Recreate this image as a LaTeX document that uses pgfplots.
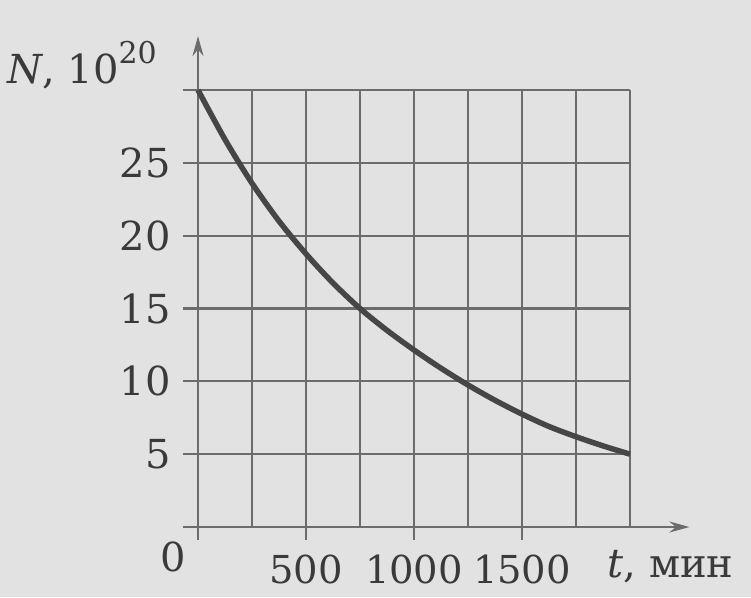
\documentclass[border=0pt]{standalone}
\usepackage{pgfplots}
\pgfplotsset{compat=1.18}
\usepackage{fontspec}
\setmainfont{DejaVu Serif}
\usetikzlibrary{arrows.meta}
\definecolor{bg}{RGB}{226,226,226}
\definecolor{gridc}{RGB}{108,108,108}
\definecolor{curvec}{RGB}{70,70,70}
\definecolor{txt}{RGB}{58,58,58}
\begin{document}
\begin{tikzpicture}[x=1pt,y=1pt]
\fill[bg] (0,0) rectangle (751,-597);
\useasboundingbox (0,0) rectangle (751,-597);
\begin{axis}[
  at={(198pt,-527pt)}, anchor=south west,
  x=0.216pt, y=14.567pt,
  xmin=0, xmax=2000, ymin=0, ymax=30,
  axis line style={draw=none},
  xtick={0,250,...,2000},
  xticklabels={,,500,,1000,,1500,,},
  ytick={5,10,...,30},
  yticklabels={5,10,15,20,25,},
  major tick length=0pt,
  grid=major,
  grid style={gridc, line width=2.3pt},
  tick label style={font=\fontsize{40}{48}\selectfont, text=txt, inner sep=0pt},
  xticklabel style={anchor=north, yshift=-28pt, font=\fontsize{38.5}{46}\selectfont},
  yticklabel style={anchor=east, xshift=-27pt},
  /pgf/number format/assume math mode=true,
  clip=false,
]
\draw[gridc, line width=2.5pt, -{Stealth[length=20pt,width=11pt]}] (axis cs:-70,0) -- (axis cs:2275,0);
\draw[gridc, line width=2.5pt, -{Stealth[length=20pt,width=11pt]}] (axis cs:0,-0.9) -- (axis cs:0,33.7);
\draw[gridc, line width=2.3pt] (axis cs:-70,5) -- (axis cs:0,5);
\draw[gridc, line width=2.3pt] (axis cs:-70,10) -- (axis cs:0,10);
\draw[gridc, line width=2.3pt] (axis cs:-70,15) -- (axis cs:0,15);
\draw[gridc, line width=2.3pt] (axis cs:-70,20) -- (axis cs:0,20);
\draw[gridc, line width=2.3pt] (axis cs:-70,25) -- (axis cs:0,25);
\draw[gridc, line width=2.3pt] (axis cs:-70,30) -- (axis cs:0,30);
\draw[gridc, line width=2.3pt] (axis cs:500,0) -- (axis cs:500,-0.9);
\draw[gridc, line width=2.3pt] (axis cs:1000,0) -- (axis cs:1000,-0.9);
\draw[gridc, line width=2.3pt] (axis cs:1500,0) -- (axis cs:1500,-0.9);
\addplot[curvec, line width=5.5pt, smooth, no markers] coordinates {
(0,30) (125,26.6) (250,23.6) (375,21.0) (500,18.75) (625,16.75) (750,15.0)
(875,13.5) (1000,12.15) (1125,10.9) (1250,9.75) (1375,8.7) (1500,7.75)
(1625,6.9) (1750,6.2) (1875,5.57) (2000,5.0)};
\node[anchor=north east, inner sep=0pt, text=txt, font=\fontsize{40}{48}\selectfont] at (axis cs:0,0) [xshift=-12pt, yshift=-15pt] {0};
\node[anchor=base west, inner sep=0pt, text=txt, font=\fontsize{40}{48}\selectfont] at (axis cs:1895,0) [yshift=-50pt] {\textit{t}, мин};
\end{axis}
\node[anchor=base west, inner sep=0pt, text=txt, font=\fontsize{40}{48}\selectfont] at (7,-83) {\textit{N}, 10\raisebox{20pt}{\fontsize{30}{36}\selectfont 20}};
\end{tikzpicture}
\end{document}
